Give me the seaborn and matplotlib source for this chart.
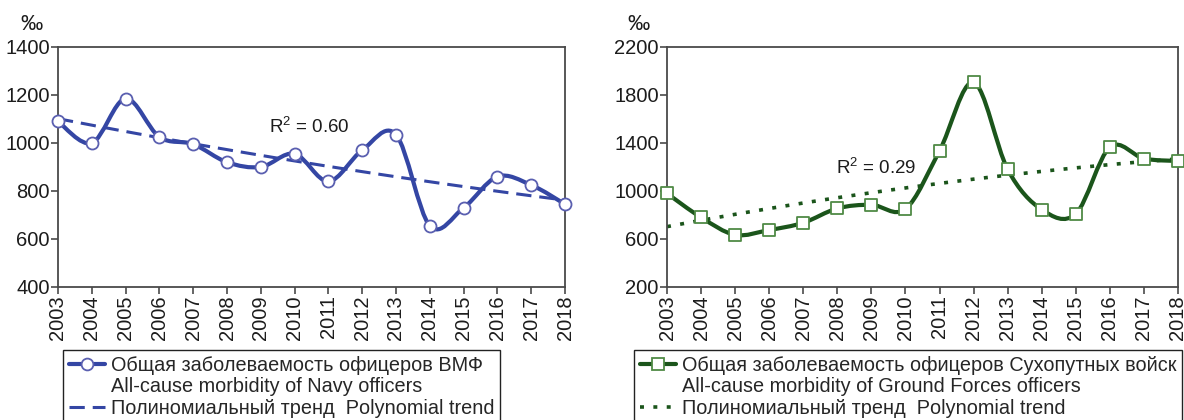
import numpy as np
import pandas as pd
import matplotlib
matplotlib.use("Agg")
import matplotlib.pyplot as plt
from matplotlib.path import Path
from matplotlib.patches import PathPatch
from matplotlib.lines import Line2D
import seaborn as sns

# ---- data -------------------------------------------------------------
years = list(range(2003, 2019))
navy = [1090, 1000, 1185, 1025, 995, 920, 900, 955, 840, 970, 1035, 655, 730, 860, 825, 745]
ground = [980, 780, 635, 675, 735, 855, 885, 850, 1335, 1905, 1180, 845, 810, 1365, 1270, 1250]

navy_r2 = "0.60"
ground_r2 = "0.29"

navy_yticks = [400, 600, 800, 1000, 1200, 1400]
ground_yticks = [200, 600, 1000, 1400, 1800, 2200]

navy_label_ru = "Общая заболеваемость офицеров ВМФ"
navy_label_en = "All-cause morbidity of Navy officers"
ground_label_ru = "Общая заболеваемость офицеров Сухопутных войск"
ground_label_en = "All-cause morbidity of Ground Forces officers"
trend_label = "Полиномиальный тренд  Polynomial trend"
unit = "‰"

# ---- style ------------------------------------------------------------
sns.set_style("ticks")
plt.rcParams["font.family"] = ["Liberation Sans", "DejaVu Sans"]
plt.rcParams["mathtext.default"] = "regular"

BLUE = "#3446a4"
BLUE_EDGE = "#5a5fb0"
GREEN = "#1b551b"
GREEN_EDGE = "#4f8a45"
SPINE = "#4a4a4a"
TEXT = "#1c1c1c"


def smooth_path(x, y):
    """Cubic Bezier path through the points (Catmull-Rom style tangents)."""
    x = np.asarray(x, float)
    y = np.asarray(y, float)
    n = len(x)
    verts = [(x[0], y[0])]
    codes = [Path.MOVETO]
    for i in range(n - 1):
        xp, yp = (x[i - 1], y[i - 1]) if i > 0 else (x[i], y[i])
        xn, yn = (x[i + 2], y[i + 2]) if i + 2 < n else (x[i + 1], y[i + 1])
        c1 = (x[i] + (x[i + 1] - xp) / 6, y[i] + (y[i + 1] - yp) / 6)
        c2 = (x[i + 1] - (xn - x[i]) / 6, y[i + 1] - (yn - y[i]) / 6)
        verts += [c1, c2, (x[i + 1], y[i + 1])]
        codes += [Path.CURVE4] * 3
    return Path(verts, codes)


def panel(ax, values, color, edge, marker, msize, trend_ls, trend_lw,
          yticks, r2, r2_xy, label_ru, label_en, legend_x):
    df = pd.DataFrame({"year": years, "value": values})
    sns.regplot(data=df, x="year", y="value", order=2, scatter=False, ci=None,
                ax=ax, truncate=True,
                line_kws=dict(color=color, lw=trend_lw, ls=trend_ls,
                              solid_capstyle="butt", zorder=2))
    ax.add_patch(PathPatch(smooth_path(years, values), facecolor="none",
                           edgecolor=color, lw=3.0, zorder=3,
                           capstyle="round", joinstyle="round"))
    sns.scatterplot(data=df, x="year", y="value", ax=ax, marker=marker,
                    s=msize, facecolor="white", edgecolor=edge, linewidth=1.3,
                    zorder=4, clip_on=False, legend=False)

    ax.set_xlim(years[0], years[-1])
    ax.set_ylim(yticks[0], yticks[-1])
    ax.set_xticks(years)
    ax.set_xticklabels([str(y) for y in years], rotation=90)
    ax.set_yticks(yticks)
    ax.set_xlabel("")
    ax.set_ylabel("")
    ax.set_facecolor("white")
    for s in ax.spines.values():
        s.set_visible(True)
        s.set_color(SPINE)
        s.set_linewidth(1.3)
    ax.tick_params(axis="both", colors=SPINE, labelcolor=TEXT, labelsize=14.5,
                   length=5, width=1.2, pad=1)
    ax.text(r2_xy[0], r2_xy[1], "R$^2$ = " + r2, fontsize=13.5, color=TEXT,
            va="center", ha="left")

    main_h = Line2D([], [], color=color, lw=3.0, marker=marker,
                    markersize=8.5, markerfacecolor="white",
                    markeredgecolor=edge, markeredgewidth=1.3)
    blank_h = Line2D([], [], color="none", lw=0)
    trend_h = Line2D([], [], color=color, lw=trend_lw, ls=trend_ls)
    fig.legend([main_h, blank_h, trend_h],
               [label_ru, label_en, trend_label],
               loc="upper left", bbox_to_anchor=(legend_x, 1 - 350 / 420),
               bbox_transform=fig.transFigure, borderaxespad=0,
               fontsize=14.3, frameon=True, fancybox=False, framealpha=1,
               edgecolor="#222222", handlelength=1.8, handletextpad=0.3,
               labelspacing=0.12, borderpad=0.3, numpoints=1)


fig = plt.figure(figsize=(11.84, 4.2), dpi=100)
ax1 = fig.add_axes([58 / 1184, 1 - 287 / 420, (565 - 58) / 1184, 240 / 420])
ax2 = fig.add_axes([667 / 1184, 1 - 287 / 420, (1178 - 667) / 1184, 240 / 420])

panel(ax1, navy, BLUE, BLUE_EDGE, "o", 75, (0, (5, 2.6)), 2.2,
      navy_yticks, navy_r2, (2009.25, 1067), navy_label_ru, navy_label_en,
      63 / 1184)
panel(ax2, ground, GREEN, GREEN_EDGE, "s", 85, (0, (1.1, 2.6)), 2.6,
      ground_yticks, ground_r2, (2007.95, 1192), ground_label_ru,
      ground_label_en, 634 / 1184)

fig.text(20 / 1184, 1 - 25 / 420, unit, fontsize=16, color=TEXT,
         va="center", ha="left")
fig.text(627 / 1184, 1 - 25 / 420, unit, fontsize=16, color=TEXT,
         va="center", ha="left")

fig.savefig("out.png", dpi=100, facecolor="white")
